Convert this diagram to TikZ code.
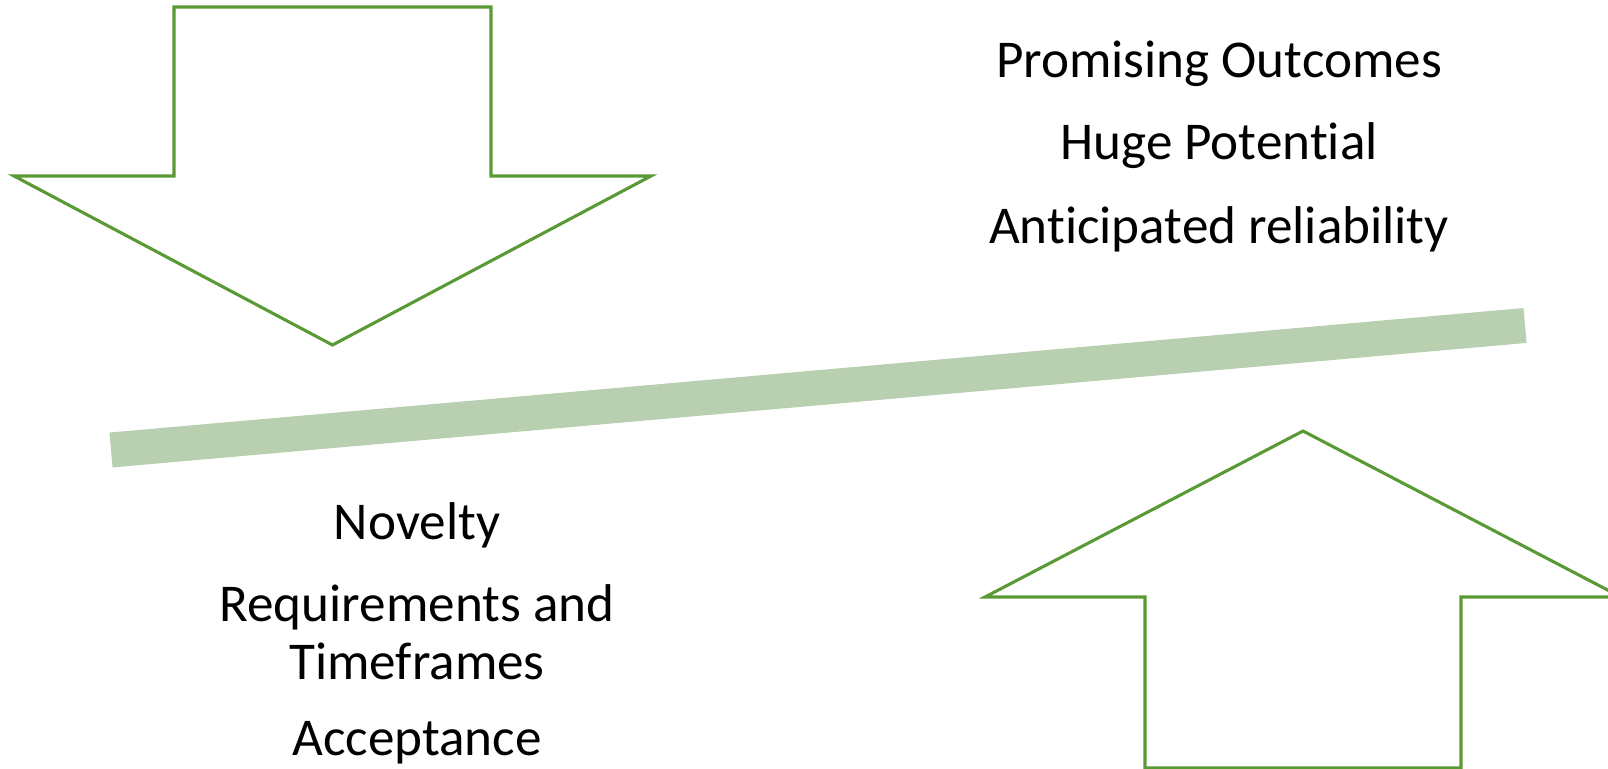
\documentclass[tikz,border=0pt]{standalone}
\usepackage{fontspec}
\setmainfont[Ligatures=NoCommon]{Carlito}
\usepackage{tikz}
\usetikzlibrary{positioning}
\usepackage{xcolor}
\definecolor{dfgreen}{RGB}{90,154,52}
\definecolor{dfsage}{RGB}{184,207,176}
\tikzstyle{bigarrow} = [draw=dfgreen, line width=2.2pt, fill=white, line join=miter]
\tikzstyle{beam} = [line width=0.875cm, color=dfsage, line cap=butt]
\tikzstyle{factor} = [anchor=base, align=center, inner sep=0pt, font=\fontsize{37.8}{41}\selectfont]

\begin{document}
\begin{tikzpicture}[x=0.025cm, y=-0.025cm]
\useasboundingbox (0,0) rectangle (1608,768);

% Pressing arrow (top left)
\draw[bigarrow] (174,7) -- (491,7) -- (491,176) -- (651,176) -- (332.5,345)
  -- (14,176) -- (174,176) -- cycle;

% Lifting arrow (bottom right)
\draw[bigarrow] (1303,431) -- (1621,597) -- (1461,597) -- (1461,768)
  -- (1145,768) -- (1145,597) -- (985,597) -- cycle;

% Tilted beam
\coordinate (beamL) at (111,450);
\coordinate (beamR) at (1525,325.5);
\draw[beam] (beamL) -- (beamR);

% Upside
\node[factor] (outcomes) at (1219,78) {Promising Outcomes};
\node[factor] (potential) at (1219,160) {Huge Potential};
\node[factor] (reliability) at (1219,243) {Anticipated reliability};

% Downside
\node[factor] (novelty) at (417,539) {Novelty};
\node[factor] (reqs) at (417,679) {Requirements and\\Timeframes};
\node[factor] (acceptance) at (417,755) {Acceptance};
\end{tikzpicture}
\end{document}
